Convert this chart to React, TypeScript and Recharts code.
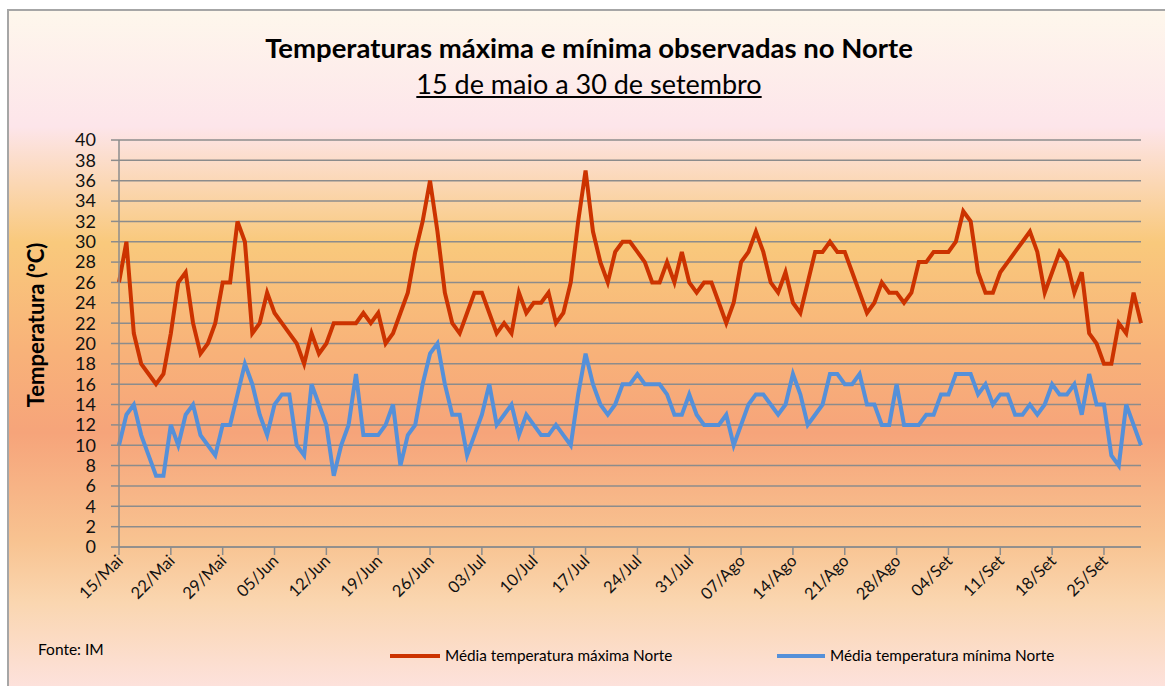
import React from 'react';
import {
  LineChart,
  Line,
  XAxis,
  YAxis,
  CartesianGrid,
} from 'recharts';

const MONTHS = ['Mai', 'Jun', 'Jul', 'Ago', 'Set'];
const MONTH_DAYS = [31, 30, 31, 31, 30];
const FIRST_DAY = 15;

// 15 de maio a 30 de setembro, um ponto por dia
const DATES: string[] = [];
MONTHS.forEach((m, k) => {
  for (let d = k === 0 ? FIRST_DAY : 1; d <= MONTH_DAYS[k]; d++) {
    DATES.push(`${String(d).padStart(2, '0')}/${m}`);
  }
});

const MAX_NORTE = [
  26, 30, 21, 18, 17, 16, 17, 21, 26, 27, 22, 19, 20, 22, 26, 26, 32, 30, 21, 22,
  25, 23, 22, 21, 20, 18, 21, 19, 20, 22, 22, 22, 22, 23, 22, 23, 20, 21, 23, 25,
  29, 32, 36, 31, 25, 22, 21, 23, 25, 25, 23, 21, 22, 21, 25, 23, 24, 24, 25, 22,
  23, 26, 32, 37, 31, 28, 26, 29, 30, 30, 29, 28, 26, 26, 28, 26, 29, 26, 25, 26,
  26, 24, 22, 24, 28, 29, 31, 29, 26, 25, 27, 24, 23, 26, 29, 29, 30, 29, 29, 27,
  25, 23, 24, 26, 25, 25, 24, 25, 28, 28, 29, 29, 29, 30, 33, 32, 27, 25, 25, 27,
  28, 29, 30, 31, 29, 25, 27, 29, 28, 25, 27, 21, 20, 18, 18, 22, 21, 25, 22,
];

const MIN_NORTE = [
  10, 13, 14, 11, 9, 7, 7, 12, 10, 13, 14, 11, 10, 9, 12, 12, 15, 18, 16, 13,
  11, 14, 15, 15, 10, 9, 16, 14, 12, 7, 10, 12, 17, 11, 11, 11, 12, 14, 8, 11,
  12, 16, 19, 20, 16, 13, 13, 9, 11, 13, 16, 12, 13, 14, 11, 13, 12, 11, 11, 12,
  11, 10, 15, 19, 16, 14, 13, 14, 16, 16, 17, 16, 16, 16, 15, 13, 13, 15, 13, 12,
  12, 12, 13, 10, 12, 14, 15, 15, 14, 13, 14, 17, 15, 12, 13, 14, 17, 17, 16, 16,
  17, 14, 14, 12, 12, 16, 12, 12, 12, 13, 13, 15, 15, 17, 17, 17, 15, 16, 14, 15,
  15, 13, 13, 14, 13, 14, 16, 15, 15, 16, 13, 17, 14, 14, 9, 8, 14, 12, 10,
];

const Y_TICKS = [0, 2, 4, 6, 8, 10, 12, 14, 16, 18, 20, 22, 24, 26, 28, 30, 32, 34, 36, 38, 40];

const RED = '#cc3300';
const BLUE = '#5590d9';
const FONT = 'Lato, "Open Sans", sans-serif';

const data = DATES.map((date, i) => ({
  date,
  max: MAX_NORTE[i],
  min: MIN_NORTE[i],
}));

const XTick = ({ x, y, payload }: any) => (
  <g transform={`translate(${x + 5},${y + 5})`}>
    <text
      x={0}
      y={0}
      textAnchor="end"
      transform="rotate(-45)"
      fontSize={16.5}
      fontFamily={FONT}
      fill="#111"
    >
      {payload.value}
    </text>
  </g>
);

export default function App() {
  return (
    <div
      style={{
        position: 'absolute',
        left: 0,
        top: 0,
        width: 1165,
        height: 686,
        fontFamily: FONT,
        color: '#000',
      }}
    >
      <div
        style={{
          position: 'absolute',
          left: 7,
          top: 9,
          width: 1160,
          height: 680,
          borderTop: '2px solid #a6a6a6',
          borderLeft: '2px solid #a6a6a6',
          background:
            'linear-gradient(to bottom, #fef7ec 0%, #fde5ea 17%, #f9c97c 34%, #f8b279 50%, #f6a47a 62%, #f8c391 78%, #fad6b0 87%, #fde2de 100%)',
        }}
      />

      <div
        style={{
          position: 'absolute',
          left: 189,
          width: 800,
          top: 32,
          textAlign: 'center',
          fontSize: 27.5,
          fontWeight: 700,
          lineHeight: '32px',
        }}
      >
        Temperaturas máxima e mínima observadas no Norte
      </div>
      <div
        style={{
          position: 'absolute',
          left: 189,
          width: 800,
          top: 68,
          textAlign: 'center',
          fontSize: 27,
          lineHeight: '32px',
          textDecoration: 'underline',
        }}
      >
        15 de maio a 30 de setembro
      </div>

      <div
        style={{
          position: 'absolute',
          left: 35,
          top: 325,
          transform: 'translate(-50%, -50%) rotate(-90deg)',
          whiteSpace: 'nowrap',
          fontSize: 22,
          fontWeight: 700,
        }}
      >
        Temperatura (ºC)
      </div>

      <div style={{ position: 'absolute', left: 0, top: 0 }}>
        <LineChart
          width={1165}
          height={686}
          data={data}
          margin={{ top: 140, right: 24, bottom: 79, left: 0 }}
        >
          <CartesianGrid
            vertical={false}
            stroke="#8c8c8c"
            strokeWidth={1.5}
          />
          <XAxis
            dataKey="date"
            interval={6}
            height={60}
            tick={<XTick />}
            tickSize={8}
            axisLine={{ stroke: '#8c8c8c', strokeWidth: 1.5 }}
            tickLine={{ stroke: '#8c8c8c', strokeWidth: 1.5 }}
          />
          <YAxis
            domain={[0, 40]}
            ticks={Y_TICKS}
            interval={0}
            width={119}
            tickSize={8}
            tickMargin={15}
            axisLine={{ stroke: '#8c8c8c', strokeWidth: 1.5 }}
            tickLine={{ stroke: '#8c8c8c', strokeWidth: 1.5 }}
            tick={{ fontSize: 18, fill: '#111', fontFamily: FONT }}
          />
          <Line
            type="linear"
            dataKey="max"
            stroke={RED}
            strokeWidth={4}
            dot={false}
            isAnimationActive={false}
          />
          <Line
            type="linear"
            dataKey="min"
            stroke={BLUE}
            strokeWidth={4}
            dot={false}
            isAnimationActive={false}
          />
        </LineChart>
      </div>

      <div style={{ position: 'absolute', left: 38, top: 640, fontSize: 15.5 }}>
        Fonte: IM
      </div>

      <div style={{ position: 'absolute', left: 390, top: 654, width: 50, height: 4, background: RED }} />
      <div style={{ position: 'absolute', left: 445, top: 646, fontSize: 15.3, lineHeight: '19px' }}>
        Média temperatura máxima Norte
      </div>
      <div style={{ position: 'absolute', left: 777, top: 654, width: 48, height: 4, background: BLUE }} />
      <div style={{ position: 'absolute', left: 830, top: 646, fontSize: 15.3, lineHeight: '19px' }}>
        Média temperatura mínima Norte
      </div>
    </div>
  );
}
